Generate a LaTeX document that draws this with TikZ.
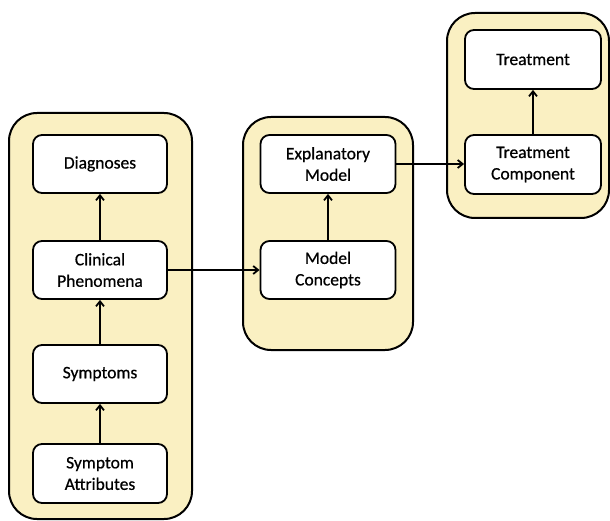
\documentclass[tikz,border=0pt]{standalone}
\usepackage{fontspec}
\setmainfont{Carlito}[FakeBold=0.6]
\usetikzlibrary{arrows.meta}
\definecolor{contfill}{HTML}{FAF0C2}
\begin{document}
\begin{tikzpicture}[x=1pt,y=-1pt,
  container/.style={draw=black,line width=2pt,fill=contfill,rounded corners=28pt},
  box/.style={draw=black,line width=1.8pt,fill=white,rounded corners=9pt,align=center,font=\fontsize{17.5}{21.5}\selectfont,inner sep=0pt},
  conn/.style={line width=2.2pt,-{Straight Barb[length=5pt,width=8pt,line width=1.8pt]}}]
\useasboundingbox[fill=white] (0,0) rectangle (610,521);
% containers
\draw[container] (9,113) rectangle (192,519);
\draw[container] (243,117) rectangle (413,350);
\draw[container] (447,13) rectangle (609,218);
% boxes
\node[box,minimum width=134pt,minimum height=58pt] (diag) at (100,164) {Diagnoses};
\node[box,minimum width=134pt,minimum height=58pt] (clin) at (100,270) {Clinical\\Phenomena};
\node[box,minimum width=134pt,minimum height=58pt] (symp) at (100,374) {Symptoms};
\node[box,minimum width=134pt,minimum height=59pt] (attr) at (100,473.5) {Symptom\\Attributes};
\node[box,minimum width=135pt,minimum height=58pt] (expl) at (328,164) {Explanatory\\Model};
\node[box,minimum width=135pt,minimum height=58pt] (conc) at (328,270) {Model\\Concepts};
\node[box,minimum width=136pt,minimum height=59pt] (treat) at (533,59.5) {Treatment};
\node[box,minimum width=136pt,minimum height=59pt] (comp) at (533,164.5) {Treatment\\Component};
% connectors
\draw[conn] (attr) -- (symp);
\draw[conn] (symp) -- (clin);
\draw[conn] (clin) -- (diag);
\draw[conn] (conc) -- (expl);
\draw[conn] (treat.south |- comp.north) -- (treat);
\draw[conn] (clin.east) -- (conc.west);
\draw[conn] (expl.east) -- (expl.east -| comp.west);
\end{tikzpicture}
\end{document}
